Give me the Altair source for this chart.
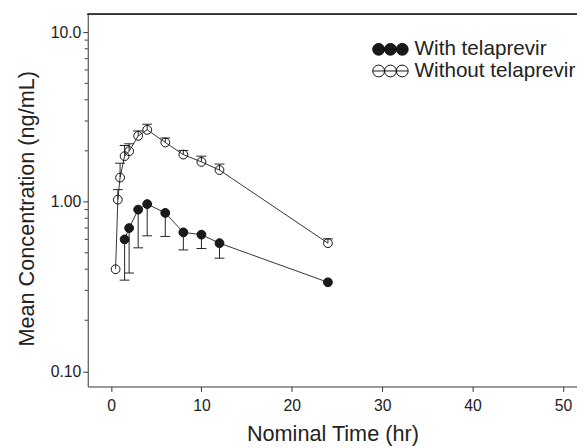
import altair as alt
import pandas as pd

# ---- data ----
series_names = ["With telaprevir", "Without telaprevir"]

with_time = [1.5, 2, 3, 4, 6, 8, 10, 12, 24]
with_mean = [0.60, 0.70, 0.90, 0.97, 0.86, 0.66, 0.64, 0.57, 0.335]
with_lower = [0.345, 0.38, 0.535, 0.63, 0.625, 0.52, 0.53, 0.465, None]

without_time = [0.5, 0.75, 1, 1.5, 2, 3, 4, 6, 8, 10, 12, 24]
without_mean = [0.40, 1.03, 1.39, 1.86, 1.99, 2.45, 2.66, 2.24, 1.90, 1.72, 1.54, 0.57]
without_upper = [None, 1.18, 1.69, 2.15, 2.20, 2.62, 2.87, 2.38, 2.01, 1.86, 1.67, 0.605]

x_ticks = [0, 10, 20, 30, 40, 50]
y_major = [0.1, 1, 10]
y_labels = ["0.10", "1.00", "10.0"]
y_minor = [0.2, 0.3, 0.4, 0.5, 0.6, 0.7, 0.8, 0.9, 2, 3, 4, 5, 6, 7, 8, 9]

# ---- tables ----
rows = []
for t, m, e in zip(with_time, with_mean, with_lower):
    rows.append({"time": t, "conc": m, "err": e, "series": series_names[0]})
for t, m, e in zip(without_time, without_mean, without_upper):
    rows.append({"time": t, "conc": m, "err": e, "series": series_names[1]})
df = pd.DataFrame(rows)
err_df = df.dropna(subset=["err"]).reset_index(drop=True)
cap_df = pd.DataFrame({"time": err_df["time"], "conc": err_df["err"]})
minor_df = pd.DataFrame({"conc": y_minor})

FONT = "Liberation Sans"
LINE = "#333333"
W, H = 497, 378

label_expr = " : ".join(
    [f"datum.value == {v} ? '{s}'" for v, s in zip(y_major, y_labels)]
) + " : ''"

xscale = alt.Scale(domain=[-2.58, 51.56], nice=False, zero=False)
yscale = alt.Scale(type="log", domain=[0.0813, 12.77], nice=False)

xaxis = alt.Axis(values=x_ticks, format="d", title="Nominal Time (hr)",
                 labelPadding=6, titleBaseline="alphabetic", titleY=55)
yaxis = alt.Axis(values=y_major, labelExpr=label_expr,
                 title="Mean Concentration (ng/mL)", labelPadding=2,
                 titleX=-62, titleY=197, titleBaseline="middle")

X = alt.X("time:Q", scale=xscale, axis=xaxis)
Y = alt.Y("conc:Q", scale=yscale, axis=yaxis)

legend_path = ("M -1,0 A 1,1 0 1,0 1,0 A 1,1 0 1,0 -1,0 Z "
               "M 1,0 A 1,1 0 1,0 3,0 A 1,1 0 1,0 1,0 Z "
               "M 3,0 A 1,1 0 1,0 5,0 A 1,1 0 1,0 3,0 Z "
               "M -1,0 L 5,0")

top_frame = alt.Chart(minor_df).mark_rule(color=LINE, strokeWidth=1).encode(
    x=alt.value(0), x2=alt.value(W), y=alt.value(0)
)

lines = alt.Chart(df).mark_line(color=LINE, strokeWidth=1).encode(
    x=X, y=Y, detail="series:N"
)

bars = alt.Chart(err_df).mark_rule(color="#222222", strokeWidth=1).encode(
    x=X, y=Y, y2="err:Q"
)

caps = alt.Chart(cap_df).mark_tick(
    orient="horizontal", size=10, thickness=1, color="#222222", opacity=1
).encode(x=X, y=Y)

minor = alt.Chart(minor_df).mark_rule(color=LINE, strokeWidth=1).encode(
    y=Y, x=alt.value(-3), x2=alt.value(0)
)

points = alt.Chart(df).mark_point(
    filled=True, size=80, stroke="#111111", strokeWidth=1, opacity=1
).encode(
    x=X, y=Y,
    fill=alt.Fill(
        "series:N",
        scale=alt.Scale(domain=series_names, range=["#1a1a1a", "transparent"]),
        legend=alt.Legend(
            orient="none", legendX=285, legendY=25, title=None,
            symbolType=legend_path, symbolSize=144,
            symbolStrokeColor="#111111", symbolStrokeWidth=1,
            labelFont=FONT, labelFontSize=21, labelColor="#222222",
            labelOffset=26, rowPadding=0, padding=0, labelLimit=400,
            labelBaseline="middle",
        ),
    ),
)

chart = alt.layer(top_frame, minor, lines, bars, caps, points).properties(
    width=W, height=H,
    autosize=alt.AutoSizeParams(type="none"),
    padding={"left": 81, "top": 3, "right": 0, "bottom": 59},
    background="white",
).configure_view(
    stroke=None
).configure_axis(
    grid=False, domainColor=LINE, tickColor=LINE, domainWidth=1, tickWidth=1,
    tickSize=5, labelColor="#222222", titleColor="#222222",
    labelFont=FONT, titleFont=FONT, labelFontSize=16, titleFontSize=22,
    titleFontWeight="normal",
)

chart.save("out.html", embed_options={"renderer": "svg", "actions": False})
